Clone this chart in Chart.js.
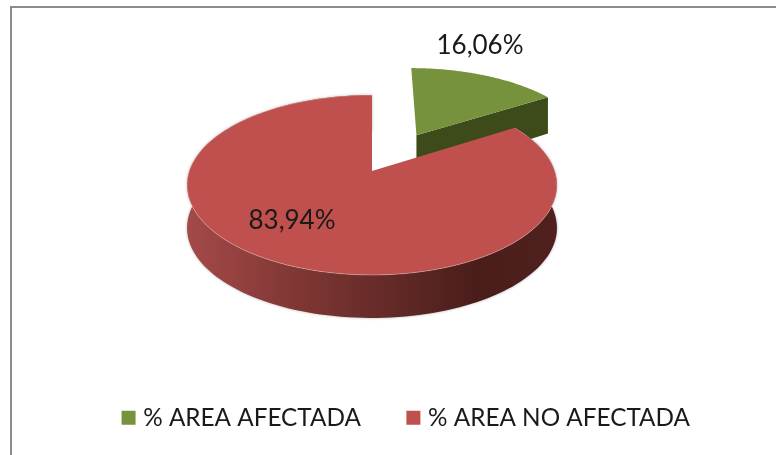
<!DOCTYPE html>
<html>
<head>
<meta charset="utf-8">
<style>
  html, body { margin: 0; padding: 0; background: #fff; }
  #wrap { position: relative; width: 776px; height: 455px; }
</style>
<script src="https://cdn.jsdelivr.net/npm/chart.js@4"></script>
</head>
<body>
<div id="wrap"><canvas id="chart" width="776" height="455"></canvas></div>
<script>
const labels = ['% AREA AFECTADA', '% AREA NO AFECTADA'];
const values = [16.06, 83.94];
const colors = ['#76923C', '#C0504D'];
const wallColors = ['#3D4B1A', '#7A2F2C'];
const explode = [0.495, 0];

// ── PERSPECTIVE PIE ──
// the library works out the slice angles, this only projects them onto a tilted disc
const VIEW = { cx: 372, cy: 171, rx: 182.7, ry: 87.8, k: 0.1556, depth: 43 };

function project(u, v, z) {
  const w = 1 + VIEW.k * v;
  const d = VIEW.depth * (1 - 0.16 * Math.max(v, 0));
  return { x: VIEW.cx + VIEW.rx * u / w, y: VIEW.cy - VIEW.ry * v / w + z * d };
}

function slicePoints(arc, shift, z, nudge) {
  // canvas angles to disc coordinates, v points to the back
  const dirMid = (arc.startAngle + arc.endAngle) / 2;
  const ou = Math.cos(dirMid) * shift, ov = -Math.sin(dirMid) * shift;
  const pts = [];
  const n = 160;
  for (let i = 0; i <= n; i++) {
    const a = arc.startAngle + (arc.endAngle - arc.startAngle) * i / n;
    const p = project(ou + Math.cos(a), ov - Math.sin(a), z);
    p.x += nudge;
    pts.push(p);
  }
  const center = project(ou, ov, z);
  center.x += nudge;
  return { pts, center };
}

function fillPath(ctx, pts, fill) {
  ctx.beginPath();
  pts.forEach((p, i) => i ? ctx.lineTo(p.x, p.y) : ctx.moveTo(p.x, p.y));
  ctx.closePath();
  ctx.fillStyle = fill;
  ctx.fill();
}

function wallGradient(ctx) {
  const g = ctx.createLinearGradient(187, 0, 557, 0);
  g.addColorStop(0, '#A5494A');
  g.addColorStop(0.3, '#7F3733');
  g.addColorStop(0.55, '#632A27');
  g.addColorStop(0.78, '#4A1D1B');
  g.addColorStop(1, '#4F201E');
  return g;
}

const pie3d = {
  id: 'pie3d',
  beforeDatasetsDraw(chart) {
    const ctx = chart.ctx;
    const arcs = chart.getDatasetMeta(0).data;
    ctx.save();

    // green slice, cut face then top
    const g = slicePoints(arcs[0], explode[0], 0, 3.5);
    const gb = slicePoints(arcs[0], explode[0], 1, 3.5);
    const gEnd = g.pts[g.pts.length - 1], gbEnd = gb.pts[gb.pts.length - 1];
    fillPath(ctx, [g.center, gEnd, gbEnd, gb.center], wallColors[0]);
    fillPath(ctx, [g.center, ...g.pts], colors[0]);

    // red slice, outer wall then top
    const r = slicePoints(arcs[1], explode[1], 0, 0);
    const rb = slicePoints(arcs[1], explode[1], 1, 0);
    ctx.shadowColor = 'rgba(0,0,0,0.3)';
    ctx.shadowBlur = 3;
    fillPath(ctx, [...r.pts, ...rb.pts.slice().reverse()], wallGradient(ctx));
    ctx.shadowColor = 'transparent';
    ctx.shadowBlur = 0;
    fillPath(ctx, [r.center, ...r.pts], colors[1]);
    ctx.strokeStyle = 'rgba(255,255,255,0.3)';
    ctx.lineWidth = 1;
    ctx.beginPath();
    r.pts.forEach((p, i) => i ? ctx.lineTo(p.x, p.y) : ctx.moveTo(p.x, p.y));
    ctx.stroke();

    // value labels
    ctx.fillStyle = '#1a1a1a';
    ctx.font = "26px Lato, sans-serif";
    ctx.textAlign = 'center';
    ctx.textBaseline = 'middle';
    const fmt = v => v.toFixed(2).replace('.', ',') + '%';
    ctx.fillText(fmt(values[0]), 480, 46);
    ctx.fillText(fmt(values[1]), 292, 221);
    ctx.restore();
    return false;
  }
};

const frame = {
  id: 'frame',
  beforeDraw(chart) {
    const ctx = chart.ctx;
    ctx.save();
    ctx.strokeStyle = '#8C8C8C';
    ctx.lineWidth = 2;
    ctx.beginPath();
    ctx.moveTo(11, 455);
    ctx.lineTo(11, 7);
    ctx.lineTo(776, 7);
    ctx.stroke();
    ctx.restore();
  }
};

new Chart(document.getElementById('chart'), {
  type: 'pie',
  data: { labels, datasets: [{ data: values, backgroundColor: colors, borderWidth: 0 }] },
  plugins: [frame, pie3d],
  options: {
    responsive: false,
    animation: false,
    layout: { padding: { bottom: 15, left: 40 } },
    plugins: {
      tooltip: { enabled: false },
      legend: {
        position: 'bottom',
        labels: {
          usePointStyle: true, pointStyle: 'rect', boxWidth: 5,
          boxHeight: 14, padding: 50, color: '#1a1a1a',
          font: { family: 'Lato', size: 24.3 }
        }
      }
    }
  }
});
</script>
</body>
</html>
